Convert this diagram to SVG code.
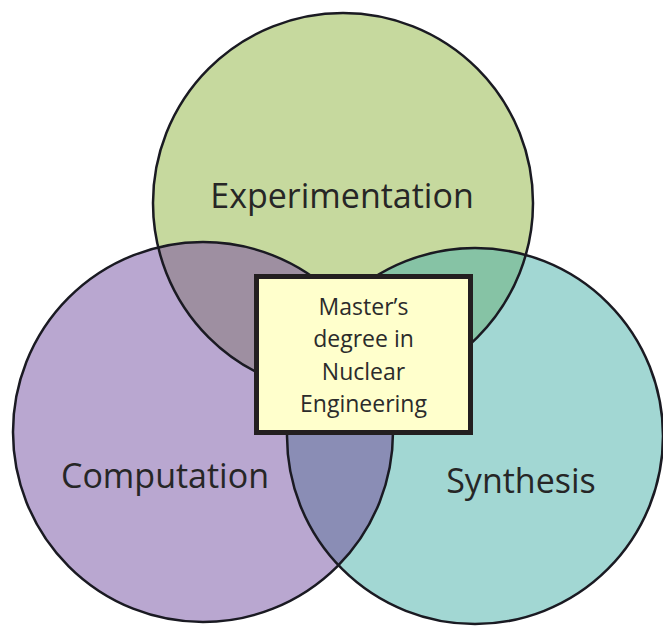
<svg xmlns="http://www.w3.org/2000/svg" width="663" height="626" viewBox="0 0 663 626">
<style>
.lbl{font-family:"Open Sans","Liberation Sans",sans-serif;font-size:34px;fill:#262626;text-anchor:middle}
.box{font-family:"Open Sans","Liberation Sans",sans-serif;font-size:23px;fill:#2b2b2b;text-anchor:middle}
.ring{fill:none;stroke:#1a1a22;stroke-width:2.5}
</style>
<defs>
<clipPath id="cT"><circle cx="343" cy="203" r="190"/></clipPath>
<clipPath id="cL"><circle cx="203" cy="432" r="190"/></clipPath>
<clipPath id="cR"><circle cx="475" cy="436" r="188"/></clipPath>
</defs>
<rect width="663" height="626" fill="#ffffff"/>
<g id="experimentation">
<circle cx="343" cy="203" r="190" fill="#c6d99e"/>
</g>
<g id="computation">
<circle cx="203" cy="432" r="190" fill="#b9a7d0"/>
</g>
<g id="synthesis">
<circle cx="475" cy="436" r="188" fill="#a2d7d3"/>
</g>
<g id="overlaps">
<g clip-path="url(#cT)"><circle cx="203" cy="432" r="190" fill="#9e8fa1"/></g>
<g clip-path="url(#cT)"><circle cx="475" cy="436" r="188" fill="#86c3a5"/></g>
<g clip-path="url(#cL)"><circle cx="475" cy="436" r="188" fill="#8a8db5"/></g>
</g>
<g id="outlines">
<circle class="ring" cx="343" cy="203" r="190"/>
<circle class="ring" cx="203" cy="432" r="190"/>
<circle class="ring" cx="475" cy="436" r="188"/>
</g>
<g id="labels">
<text class="lbl" x="342" y="208">Experimentation</text>
<text class="lbl" x="165" y="488">Computation</text>
<text class="lbl" x="521" y="493">Synthesis</text>
</g>
<g id="center-box">
<rect x="256.5" y="276.5" width="214" height="156" fill="#ffffcc" stroke="#231f20" stroke-width="5"/>
<text class="box" x="363.5" y="315">Master’s</text>
<text class="box" x="363.5" y="347">degree in</text>
<text class="box" x="363.5" y="380">Nuclear</text>
<text class="box" x="363.5" y="412">Engineering</text>
</g>
</svg>
